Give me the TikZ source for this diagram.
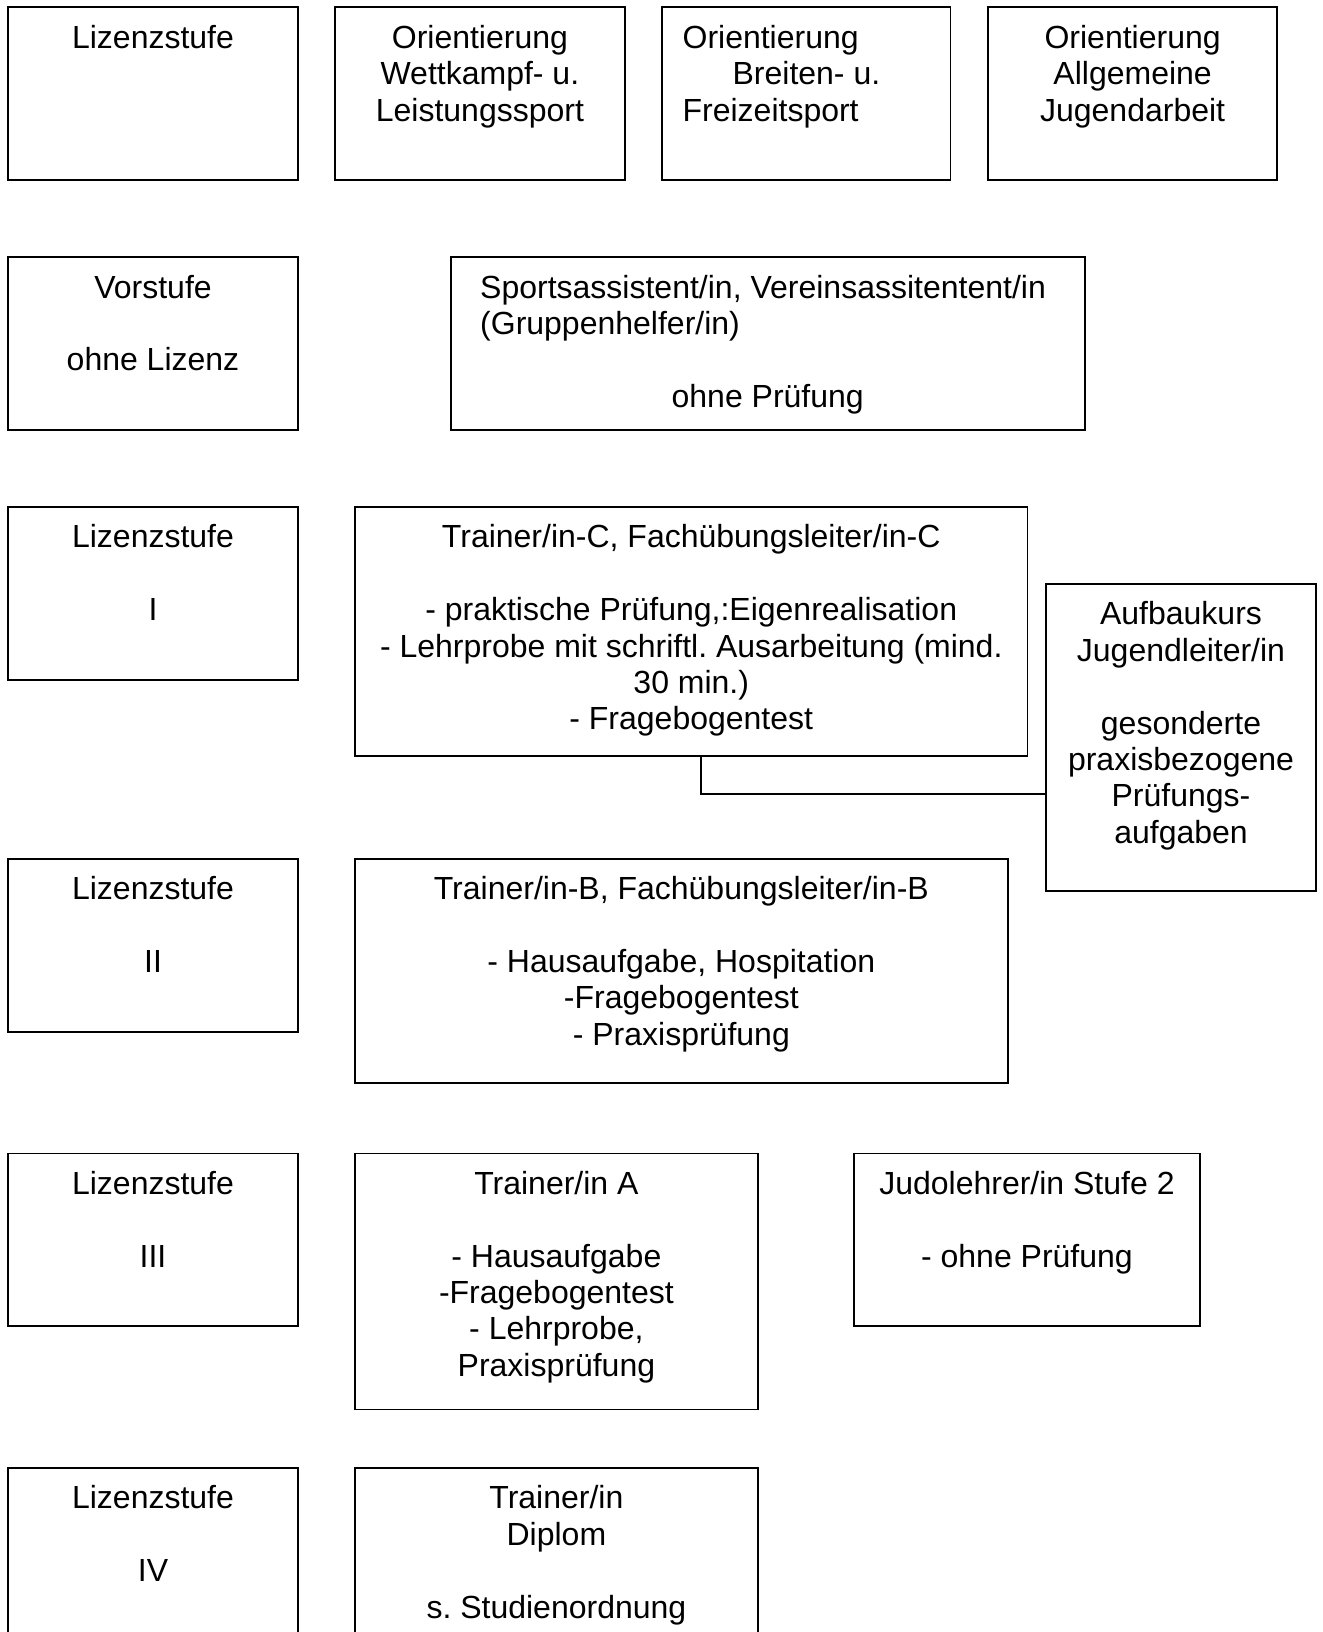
\documentclass[tikz,border=0pt]{standalone}
\usepackage{fontspec}
\setmainfont{Liberation Sans}
\usetikzlibrary{fit}
\frenchspacing
\begin{document}
\begin{tikzpicture}[x=0.5pt,y=-0.5pt,
  box/.style={draw, line width=0.9pt, inner sep=0pt},
  txt/.style={inner sep=0pt, align=center, anchor=north, font=\fontsize{16}{18.2}\selectfont},
  txtl/.style={inner sep=0pt, align=left, anchor=north west, font=\fontsize{16}{18.2}\selectfont},
  conn/.style={draw, line width=0.9pt}]
\useasboundingbox (0,0) rectangle (1322,1632);
\clip (0,0) rectangle (1322,1632);
% row 1
\node[box, fit={(8.3,7.3) (297.7,180.1)}] (bA) {};
\node[box, fit={(335.2,7.3) (624.6,180.1)}] (bB) {};
\node[box, fit={(662.1,7.3) (950.4,180.1)}] (bC) {};
\node[box, fit={(987.9,7.3) (1277.3,180.1)}] (bD) {};
\node[txt] (tA) at ([yshift=-8pt]bA.north) {\strut Lizenzstufe};
\node[txt] (tB) at ([yshift=-8pt]bB.north) {\strut Orientierung\\Wettkampf- u.\\Leistungssport};
\node[txtl] (tC) at ([xshift=10.5pt,yshift=-8pt]bC.north west) {\strut Orientierung\\\hspace*{25pt}Breiten- u.\\Freizeitsport};
\node[txt] (tD) at ([yshift=-8pt]bD.north) {\strut Orientierung\\Allgemeine\\Jugendarbeit};
% row 2
\node[box, fit={(8.3,257.1) (297.7,429.9)}] (bV) {};
\node[box, fit={(450.7,257.1) (1084.7,429.9)}] (bS) {};
\node[txt] (tV) at ([yshift=-8pt]bV.north) {\strut Vorstufe\\ \\ohne Lizenz};
\node[txtl] (tS) at ([xshift=15pt,yshift=-8pt]bS.north west) {\strut Sportsassistent/in, Vereinsassitentent/in\\(Gruppenhelfer/in)};
\node[txt] (tS2) at ([yshift=-8pt-54.6pt]bS.north) {\strut ohne Prüfung};
% row 3
\node[box, fit={(8.3,507) (297.7,679.8)}] (bL1) {};
\node[box, fit={(355,507) (1027.5,755.8)}] (bTC) {};
\node[box, fit={(1046.2,584) (1315.8,891.1)}] (bAuf) {};
\node[txt] (tL1) at ([yshift=-8pt]bL1.north) {\strut Lizenzstufe\\ \\I};
\node[txt] (tTC) at ([yshift=-8pt]bTC.north) {\strut Trainer/in-C, Fachübungsleiter/in-C\\ \\- praktische Prüfung,:Eigenrealisation\\- Lehrprobe mit schriftl. Ausarbeitung (mind.\\30 min.)\\- Fragebogentest};
\node[txt] (tAuf) at ([yshift=-8pt]bAuf.north) {\strut Aufbaukurs\\Jugendleiter/in\\ \\gesonderte\\praxisbezogene\\Prüfungs-\\aufgaben};
\coordinate (cb) at (700.6,794.3);
\draw[conn] (bTC.south -| cb) -- (cb) -- (cb -| bAuf.west);
% row 4
\node[box, fit={(8.3,858.8) (297.7,1031.6)}] (bL2) {};
\node[box, fit={(355,858.8) (1007.7,1082.6)}] (bTB) {};
\node[txt] (tL2) at ([yshift=-8pt]bL2.north) {\strut Lizenzstufe\\ \\II};
\node[txt] (tTB) at ([yshift=-8pt]bTB.north) {\strut Trainer/in-B, Fachübungsleiter/in-B\\ \\- Hausaufgabe, Hospitation\\-Fragebogentest\\- Praxisprüfung};
% row 5
\node[box, fit={(8.3,1153.4) (297.7,1326.2)}] (bL3) {};
\node[box, fit={(355,1153.4) (757.8,1409.5)}] (bTA) {};
\node[box, fit={(853.6,1153.4) (1200.3,1326.2)}] (bJ) {};
\node[txt] (tL3) at ([yshift=-8pt]bL3.north) {\strut Lizenzstufe\\ \\III};
\node[txt] (tTA) at ([yshift=-8pt]bTA.north) {\strut Trainer/in A\\ \\- Hausaufgabe\\-Fragebogentest\\- Lehrprobe,\\Praxisprüfung};
\node[txt] (tJ) at ([yshift=-8pt]bJ.north) {\strut Judolehrer/in Stufe 2\\ \\- ohne Prüfung};
% row 6
\node[box, fit={(8.3,1467.8) (297.7,1720)}] (bL4) {};
\node[box, fit={(355,1467.8) (757.8,1720)}] (bTD) {};
\node[txt] (tL4) at ([yshift=-8pt]bL4.north) {\strut Lizenzstufe\\ \\IV};
\node[txt] (tTD) at ([yshift=-8pt]bTD.north) {\strut Trainer/in\\Diplom\\ \\s. Studienordnung};
\end{tikzpicture}
\end{document}
